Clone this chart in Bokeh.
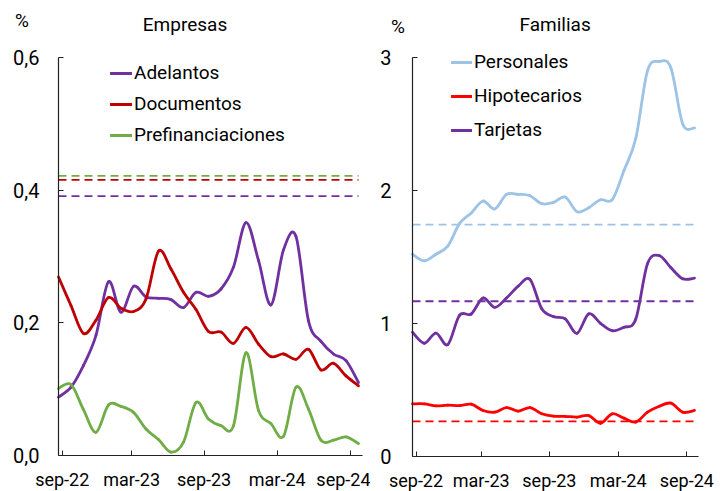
import numpy as np
from bokeh.plotting import figure
from bokeh.models import Range1d, FixedTicker, Label, Legend, LegendItem
from bokeh.layouts import row
from bokeh.embed import file_html
from bokeh.resources import INLINE

# ---------------- data ----------------
months = ["sep-22", "oct-22", "nov-22", "dic-22", "ene-23", "feb-23", "mar-23", "abr-23",
          "may-23", "jun-23", "jul-23", "ago-23", "sep-23", "oct-23", "nov-23", "dic-23",
          "ene-24", "feb-24", "mar-24", "abr-24", "may-24", "jun-24", "jul-24", "ago-24", "sep-24"]

adelantos = [0.088, 0.103, 0.136, 0.181, 0.262, 0.216, 0.255, 0.239, 0.237, 0.235, 0.223, 0.246,
             0.240, 0.251, 0.284, 0.351, 0.294, 0.227, 0.310, 0.330, 0.203, 0.172, 0.153, 0.143, 0.110]
documentos = [0.269, 0.226, 0.184, 0.204, 0.238, 0.222, 0.217, 0.236, 0.308, 0.281, 0.246, 0.220,
              0.187, 0.186, 0.169, 0.193, 0.168, 0.149, 0.153, 0.145, 0.160, 0.129, 0.139, 0.120, 0.105]
prefinanciaciones = [0.101, 0.107, 0.069, 0.035, 0.076, 0.074, 0.065, 0.040, 0.024, 0.005, 0.020, 0.080,
                     0.055, 0.045, 0.045, 0.155, 0.068, 0.048, 0.029, 0.103, 0.070, 0.023, 0.023, 0.028, 0.018]

personales = [1.52, 1.47, 1.52, 1.58, 1.75, 1.83, 1.92, 1.86, 1.97, 1.97, 1.96, 1.90,
              1.91, 1.95, 1.84, 1.87, 1.93, 1.93, 2.15, 2.39, 2.90, 2.97, 2.92, 2.50, 2.47]
hipotecarios = [0.394, 0.394, 0.379, 0.384, 0.380, 0.391, 0.344, 0.331, 0.366, 0.339, 0.366, 0.319,
                0.301, 0.300, 0.294, 0.306, 0.248, 0.319, 0.286, 0.257, 0.331, 0.376, 0.399, 0.331, 0.344]
tarjetas = [0.933, 0.85, 0.926, 0.84, 1.06, 1.07, 1.19, 1.12, 1.19, 1.28, 1.33, 1.11,
            1.05, 1.034, 0.925, 1.071, 1.00, 0.944, 0.97, 1.03, 1.448, 1.51, 1.418, 1.335, 1.34]

prom_empresas = {"Adelantos": 0.391, "Documentos": 0.4155, "Prefinanciaciones": 0.4215}
prom_familias = {"Personales": 1.743, "Hipotecarios": 0.262, "Tarjetas": 1.166}

xtick_labels = ["sep-22", "mar-23", "sep-23", "mar-24", "sep-24"]
xtick_pos = [0.3, 5.85, 11.65, 17.5, 23.35]
ytick_emp = [0, 0.2, 0.4, 0.6]
ytick_emp_labels = ["0,0", "0,2", "0,4", "0,6"]
ytick_fam = [0, 1, 2, 3]
ytick_fam_labels = ["0", "1", "2", "3"]

FONT = "Roboto"
x = np.arange(len(months), dtype=float)


def smooth(p, xs, ys, color, width):
    xs = np.asarray(xs, float)
    ys = np.asarray(ys, float)
    n = len(xs)
    xp = np.concatenate([[xs[0]], xs, [xs[-1]]])
    yp = np.concatenate([[ys[0]], ys, [ys[-1]]])
    x0, y0 = xp[1:n], yp[1:n]
    x1, y1 = xp[2:n + 1], yp[2:n + 1]
    cx0 = x0 + (xp[2:n + 1] - xp[0:n - 1]) / 6.0
    cy0 = y0 + (yp[2:n + 1] - yp[0:n - 1]) / 6.0
    cx1 = x1 - (xp[3:n + 2] - xp[1:n]) / 6.0
    cy1 = y1 - (yp[3:n + 2] - yp[1:n]) / 6.0
    return p.bezier(x0=x0, y0=y0, x1=x1, y1=y1, cx0=cx0, cy0=cy0, cx1=cx1, cy1=cy1,
                    line_color=color, line_width=width, line_cap="round")


def make_fig(width, xr, yr, xbounds, ybounds, yticks, ylabels, ystandoff):
    p = figure(width=width, height=491, output_backend="svg", toolbar_location=None,
               title=None, x_range=Range1d(*xr), y_range=Range1d(*yr), min_border=0)
    p.outline_line_color = None
    p.grid.visible = False
    p.background_fill_color = "white"
    p.border_fill_color = "white"
    for ax in (p.xaxis[0], p.yaxis[0]):
        ax.fixed_location = 0
        ax.axis_line_color = "#222222"
        ax.axis_line_width = 1.2
        ax.major_tick_line_color = "#222222"
        ax.major_tick_in = 5
        ax.major_tick_out = 0
        ax.minor_tick_line_color = None
        ax.major_label_text_font = FONT
        ax.major_label_text_color = "black"
    p.xaxis.bounds = xbounds
    p.yaxis.bounds = ybounds
    p.xaxis.ticker = FixedTicker(ticks=xtick_pos)
    p.xaxis.major_label_overrides = {t: l for t, l in zip(xtick_pos, xtick_labels)}
    p.xaxis.major_label_text_font_size = "18px"
    p.xaxis.major_label_standoff = 14
    p.yaxis.ticker = FixedTicker(ticks=yticks)
    p.yaxis.major_label_overrides = {t: l for t, l in zip(yticks, ylabels)}
    p.yaxis.major_label_text_font_size = "20px"
    p.yaxis.major_label_standoff = ystandoff
    return p


def add_text(p, xv, yv, txt):
    p.add_layout(Label(x=xv, y=yv, text=txt, text_font=FONT, text_font_size="19px",
                       text_align="center", text_baseline="middle", text_color="black"))


def add_legend(p, items, loc, spacing, gw):
    p.add_layout(Legend(items=items, location=loc, orientation="vertical",
                        label_text_font=FONT, label_text_font_size="19px", label_text_color="black",
                        glyph_width=gw, glyph_height=20, label_height=20, label_standoff=2,
                        spacing=spacing, padding=0, margin=0, border_line_alpha=0,
                        background_fill_alpha=0))


# ---------------- Empresas ----------------
p1 = make_fig(370, (-4.64, 24.96), (-0.0543, 0.6859), (0, 24.32), (0, 0.6),
              ytick_emp, ytick_emp_labels, 19)
emp_series = [("Adelantos", adelantos, "#7030A0"),
              ("Documentos", documentos, "#C00000"),
              ("Prefinanciaciones", prefinanciaciones, "#70AD47")]
items1 = []
for name, vals, col in emp_series:
    avg = prom_empresas[name]
    p1.line([x[0], x[-1]], [avg, avg], line_color=col, line_width=1.8, line_dash="8 5")
for name, vals, col in emp_series:
    r = smooth(p1, x, vals, col, 2.8)
    items1.append(LegendItem(label=name, renderers=[r]))
add_legend(p1, items1, (110, 345), 8, 22)
add_text(p1, -2.92, 0.6558, "%")
add_text(p1, 10.12, 0.649, "Empresas")

# ---------------- Familias ----------------
p2 = make_fig(353, (-3.574, 26.47), (-0.2656, 3.4289), (0, 24.34), (0, 3),
              ytick_fam, ytick_fam_labels, 21)
fam_series = [("Personales", personales, "#9DC3E6"),
              ("Hipotecarios", hipotecarios, "#FF0000"),
              ("Tarjetas", tarjetas, "#7030A0")]
items2 = []
for name, vals, col in fam_series:
    avg = prom_familias[name]
    p2.line([x[0], x[-1]], [avg, avg], line_color=col, line_width=1.8, line_dash="8 5")
for name, vals, col in fam_series:
    r = smooth(p2, x, vals, col, 2.8)
    items2.append(LegendItem(label=name, renderers=[r]))
add_legend(p2, items2, (81, 350), 11, 21)
add_text(p2, -1.23, 3.237, "%")
add_text(p2, 12.14, 3.249, "Familias")

layout = row(p1, p2)
open("out.html", "w").write(file_html(layout, INLINE))
